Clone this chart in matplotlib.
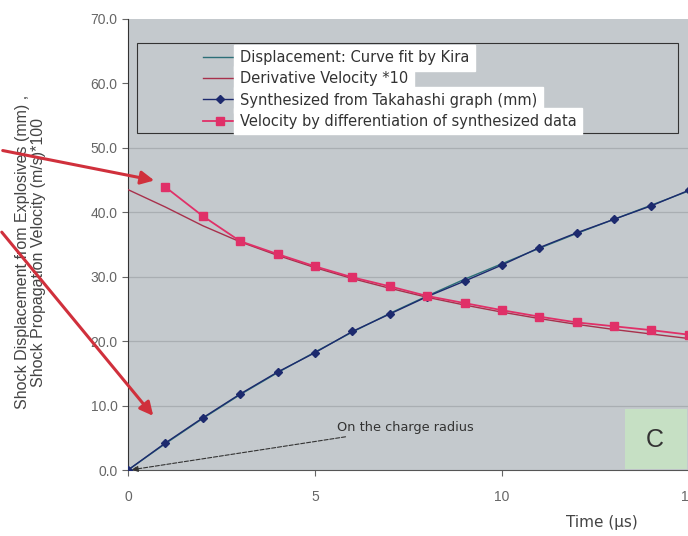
import matplotlib.pyplot as plt
from matplotlib.patches import Rectangle, FancyArrowPatch

plt.rcParams['font.family'] = ['Liberation Sans', 'DejaVu Sans']

# time in microseconds
t = [0, 1, 2, 3, 4, 5, 6, 7, 8, 9, 10, 11, 12, 13, 14, 15]

# displacement (mm)
fit_disp = [0.0, 4.1, 8.0, 11.7, 15.1, 18.3, 21.4, 24.3, 27.0, 29.6, 32.0, 34.4, 36.7, 38.9, 41.1, 43.3]
synth_disp = [0.0, 4.2, 8.1, 11.8, 15.2, 18.2, 21.5, 24.2, 26.9, 29.3, 31.8, 34.5, 36.8, 38.9, 41.0, 43.4]

# velocity (m/s)*100
deriv_vel = [43.5, 40.8, 37.9, 35.4, 33.3, 31.4, 29.7, 28.2, 26.8, 25.6, 24.5, 23.5, 22.6, 21.8, 21.1, 20.4]
diff_t = [1, 2, 3, 4, 5, 6, 7, 8, 9, 10, 11, 12, 13, 14, 15]
diff_vel = [43.9, 39.4, 35.5, 33.5, 31.6, 29.9, 28.5, 27.0, 25.9, 24.8, 23.8, 22.9, 22.3, 21.7, 21.0]

yticks = [0, 10, 20, 30, 40, 50, 60, 70]
xticks = [0, 5, 10, 15]

fig = plt.figure(figsize=(6.88, 5.36), dpi=100)
ax = fig.add_axes([0.186, 0.123, 0.818, 0.842])
ax.set_facecolor('#c4c9cd')

for y in [10, 20, 30, 40, 50]:
    ax.axhline(y, color='#a9aeb2', lw=0.9, zorder=0)

ax.plot(t, fit_disp, color='#2c6f78', lw=1.0, label='Displacement: Curve fit by Kira', zorder=3)
ax.plot(t, deriv_vel, color='#a8304c', lw=1.0, label='Derivative Velocity *10', zorder=3)
ax.plot(t, synth_disp, color='#1d2a6e', lw=1.0, marker='D', ms=4.5,
        label='Synthesized from Takahashi graph (mm)', zorder=4)
ax.plot(diff_t, diff_vel, color='#e03068', lw=1.3, marker='s', ms=6,
        label='Velocity by differentiation of synthesized data', zorder=4)

ax.set_xlim(0, 15.05)
ax.set_ylim(0, 70)
ax.set_xticks(xticks)
ax.set_xticklabels([str(v) for v in xticks])
ax.set_yticks(yticks)
ax.set_yticklabels(['%.1f' % v for v in yticks])
ax.tick_params(colors='#666666', labelsize=10, length=4)
ax.tick_params(axis='x', pad=10)
for s in ['top', 'right']:
    ax.spines[s].set_visible(False)
ax.spines['left'].set_color('#333333')
ax.spines['bottom'].set_color('#555555')

ax.set_xlabel('Time (\u00b5s)', fontsize=11, color='#444444', family='DejaVu Sans')
ax.xaxis.set_label_coords(0.842, -0.1)
ax.set_ylabel('Shock Displacement from Explosives (mm) ,\nShock Propagation Velocity (m/s)*100',
              fontsize=11.5, color='#444444', linespacing=1.1)
ax.yaxis.set_label_coords(-0.145, 0.483)

# legend: frame drawn separately, entries with white text background
ax.add_patch(Rectangle((0.016, 0.747), 0.961, 0.2, transform=ax.transAxes,
                       facecolor='none', edgecolor='#333333', lw=0.8, zorder=5))
leg = ax.legend(loc='upper left', bbox_to_anchor=(0.133, 0.93), frameon=False,
                prop={'family': 'DejaVu Sans', 'size': 10.5}, borderpad=0, borderaxespad=0,
                handlelength=2.3, handletextpad=0.25, labelspacing=0.42)
for txt in leg.get_texts():
    txt.set_backgroundcolor('white')
    txt.set_color('#333333')

# annotation for the charge radius
ax.annotate('On the charge radius', xy=(0.1, 0.05), xytext=(5.6, 6.6),
            fontsize=9.3, family='DejaVu Sans', color='#333333', va='center',
            arrowprops=dict(arrowstyle='-|>', color='#333333', lw=0.8,
                            linestyle='--', shrinkA=0, shrinkB=0))

# "C" panel tag
ax.add_patch(Rectangle((13.28, 0.1), 1.66, 9.3, facecolor='#c6e0c4', edgecolor='none', zorder=5))
ax.text(14.1, 4.6, 'C', fontsize=18, color='#333333', ha='center', va='center', zorder=6)

# red pointer arrows
for start, end in [((0, 386), (157, 355)), ((0, 306), (155, 118))]:
    arr = FancyArrowPatch(start, end, transform=None, arrowstyle='-|>,head_length=8,head_width=4',
                          color='#d0303c', lw=2.2, zorder=10)
    fig.patches.append(arr)

fig.savefig('out.png', dpi=100)
